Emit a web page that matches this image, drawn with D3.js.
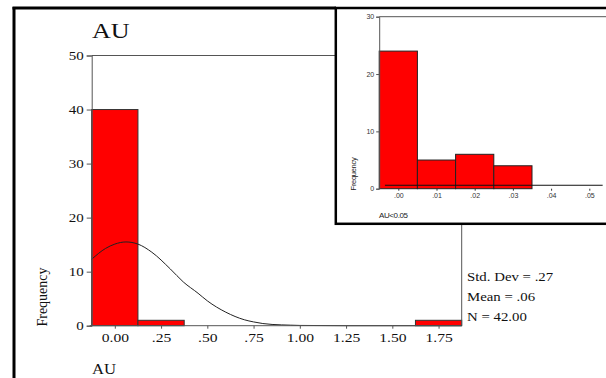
<!DOCTYPE html>
<html><head><meta charset="utf-8">
<script src="https://cdn.jsdelivr.net/npm/d3@7"></script>
<style>
html,body{margin:0;padding:0;background:#fff;}
svg{display:block;}
</style></head>
<body>
<svg id="chart" width="606" height="378"></svg>
<script>
// ---------- data ----------
const mainTitle = "AU";
const mainXLabel = "AU";
const mainYLabel = "Frequency";
const binCenters = [0, 0.25, 0.5, 0.75, 1.0, 1.25, 1.5, 1.75];
const binCounts  = [40, 1, 0, 0, 0, 0, 0, 1];
const binWidth = 0.25;
const xTickValues = [0, 0.25, 0.5, 0.75, 1.0, 1.25, 1.5, 1.75];
const xTickLabels = ["0.00", ".25", ".50", ".75", "1.00", "1.25", "1.50", "1.75"];
const yTickValues = [0, 10, 20, 30, 40, 50];
const curveX = [-0.125, -0.05, 0, 0.06, 0.125, 0.2, 0.3, 0.37, 0.45, 0.5, 0.6, 0.7, 0.75, 0.8, 0.9, 0.95, 1.0, 1.25, 1.5, 1.875];
const curveY = [12.3, 14.3, 15.1, 15.5, 15.1, 13.6, 10.5, 8.1, 6.0, 4.6, 2.5, 1.1, 0.7, 0.4, 0.15, 0.1, 0.05, 0, 0, 0];
const statLines = ["Std. Dev = .27", "Mean = .06", "N = 42.00"];

const insetXLabel = "AU<0.05";
const insetYLabel = "Frequency";
const insetCenters = [0.00, 0.01, 0.02, 0.03, 0.04, 0.05];
const insetCounts  = [24, 5, 6, 4, 0, 0];
const insetBinWidth = 0.01;
const insetXTickValues = [0.00, 0.01, 0.02, 0.03, 0.04, 0.05];
const insetXTickLabels = [".00", ".01", ".02", ".03", ".04", ".05"];
const insetYTickValues = [0, 10, 20, 30];
const insetCurveX = [-0.0035, 0.01, 0.02, 0.03, 0.04, 0.0535];
const insetCurveY = [0.6, 0.6, 0.6, 0.6, 0.6, 0.6];

// ---------- drawing ----------
const svg = d3.select("#chart");
const serif = "'Liberation Serif','Times New Roman',serif";
const sans = "'Liberation Sans',Arial,sans-serif";
const axisGray = "#555";

function stretch(sel, f) {
  sel.each(function () {
    const w = this.getComputedTextLength();
    d3.select(this).attr("textLength", w * f).attr("lengthAdjust", "spacingAndGlyphs");
  });
}

// main scales
const x = d3.scaleLinear().domain([-0.125, 1.875]).range([91.7, 461.7]);
const y = d3.scaleLinear().domain([0, 50]).range([325.7, 55.5]);

const main = svg.append("g");

// bars
main.selectAll("rect.bar").data(binCenters.map((c, i) => ({c, v: binCounts[i]})).filter(d => d.v > 0))
  .enter().append("rect")
  .attr("x", d => x(d.c - binWidth / 2))
  .attr("y", d => y(d.v))
  .attr("width", d => x(d.c + binWidth / 2) - x(d.c - binWidth / 2))
  .attr("height", d => y(0) - y(d.v))
  .attr("fill", "#ff0000")
  .attr("stroke", "#333")
  .attr("stroke-width", 1);

// plot frame
main.append("line").attr("x1", x(-0.125)).attr("x2", x(1.875)).attr("y1", y(50)).attr("y2", y(50)).attr("stroke", axisGray);
main.append("line").attr("x1", x(1.875)).attr("x2", x(1.875)).attr("y1", y(50)).attr("y2", y(0)).attr("stroke", axisGray);

// normal curve
const line = d3.line().x(d => x(d[0])).y(d => y(d[1])).curve(d3.curveMonotoneX);
main.append("path").datum(curveX.map((v, i) => [v, curveY[i]]))
  .attr("d", line).attr("fill", "none").attr("stroke", "#222").attr("stroke-width", 1);

// axes
const xAxis = d3.axisBottom(x).tickValues(xTickValues).tickSize(3).tickPadding(4)
  .tickFormat((d, i) => xTickLabels[i]);
const gx = main.append("g").attr("transform", `translate(0,${y(0)})`).call(xAxis);
gx.select(".domain").attr("stroke", axisGray).attr("d", `M${x(-0.125)-2},0H${x(1.875)}`);
gx.selectAll(".tick line").attr("stroke", axisGray);
gx.selectAll("text").attr("font-family", serif).attr("font-size", 13).attr("fill", "#111")
  .attr("dy", null).attr("y", 16);
stretch(gx.selectAll("text"), 1.2);

const yAxis = d3.axisLeft(y).tickValues(yTickValues).tickSize(5).tickPadding(3);
const gy = main.append("g").attr("transform", `translate(${x(-0.125)},0)`).call(yAxis);
gy.select(".domain").attr("stroke", axisGray);
gy.selectAll(".tick line").attr("stroke", axisGray);
gy.selectAll("text").attr("font-family", serif).attr("font-size", 12.5).attr("fill", "#111").attr("dy", "0.32em");
stretch(gy.selectAll("text"), 1.2);

// labels
const title = main.append("text").attr("x", 92).attr("y", 38).text(mainTitle)
  .attr("font-family", serif).attr("font-size", 21).attr("fill", "#111");
stretch(title, 1.24);
const xl = main.append("text").attr("x", 92).attr("y", 374).text(mainXLabel)
  .attr("font-family", serif).attr("font-size", 14.5).attr("fill", "#111");
stretch(xl, 1.15);
main.append("text").attr("transform", "translate(47,297) rotate(-90)").attr("text-anchor", "middle")
  .text(mainYLabel).attr("font-family", serif).attr("font-size", 14).attr("fill", "#111");

const st = main.selectAll("text.stat").data(statLines).enter().append("text")
  .attr("x", 467).attr("y", (d, i) => 280.7 + i * 20).text(d => d)
  .attr("font-family", serif).attr("font-size", 13).attr("fill", "#111");
stretch(st, 1.14);

// ---------- inset ----------
const xi = d3.scaleLinear().domain([-0.005, 0.055]).range([379.2, 608.4]);
const yi = d3.scaleLinear().domain([0, 30]).range([188.7, 16.7]);
const inset = svg.append("g");
inset.append("rect").attr("x", 335.8).attr("y", 8).attr("width", 300).attr("height", 215.8)
  .attr("fill", "#fff").attr("stroke", "#000").attr("stroke-width", 2.5);

inset.append("line").attr("x1", xi(-0.005)).attr("x2", 606).attr("y1", yi(30)).attr("y2", yi(30)).attr("stroke", axisGray);
inset.selectAll("rect.ibar").data(insetCenters.map((c, i) => ({c, v: insetCounts[i]})).filter(d => d.v > 0))
  .enter().append("rect")
  .attr("x", d => xi(d.c - insetBinWidth / 2))
  .attr("y", d => yi(d.v))
  .attr("width", d => xi(d.c + insetBinWidth / 2) - xi(d.c - insetBinWidth / 2))
  .attr("height", d => yi(0) - yi(d.v))
  .attr("fill", "#ff0000").attr("stroke", "#222").attr("stroke-width", 1);

const lineI = d3.line().x(d => xi(d[0])).y(d => yi(d[1]));
inset.append("path").datum(insetCurveX.map((v, i) => [v, insetCurveY[i]]))
  .attr("d", lineI).attr("fill", "none").attr("stroke", "#111").attr("stroke-width", 1);

const gyi = inset.append("g").attr("transform", `translate(${xi(-0.005)},0)`)
  .call(d3.axisLeft(yi).tickValues(insetYTickValues).tickSize(3).tickPadding(2));
gyi.select(".domain").attr("stroke", axisGray);
gyi.selectAll(".tick line").attr("stroke", axisGray);
gyi.selectAll("text").attr("font-family", sans).attr("font-size", 7).attr("fill", "#333").attr("dy", "0.32em");

const gxi = inset.append("g").attr("transform", `translate(0,${yi(0)})`)
  .call(d3.axisBottom(xi).tickValues(insetXTickValues).tickSize(2).tickPadding(2)
    .tickFormat((d, i) => insetXTickLabels[i]));
gxi.select(".domain").remove();
gxi.selectAll(".tick line").attr("stroke", "#333");
gxi.selectAll("text").attr("font-family", sans).attr("font-size", 7).attr("fill", "#333");

inset.append("text").attr("x", 379).attr("y", 218).text(insetXLabel)
  .attr("font-family", sans).attr("font-size", 8).attr("fill", "#222").attr("letter-spacing", -0.4);
inset.append("text").attr("transform", "translate(355.5,174) rotate(-90)").attr("text-anchor", "middle")
  .text(insetYLabel).attr("font-family", sans).attr("font-size", 7.5).attr("fill", "#222").attr("letter-spacing", -0.3);

// ---------- outer frame ----------
svg.append("line").attr("x1", 14).attr("x2", 14).attr("y1", 7).attr("y2", 380).attr("stroke", "#000").attr("stroke-width", 3);
svg.append("line").attr("x1", 12.5).attr("x2", 336).attr("y1", 8).attr("y2", 8).attr("stroke", "#000").attr("stroke-width", 3);
</script>
</body></html>
